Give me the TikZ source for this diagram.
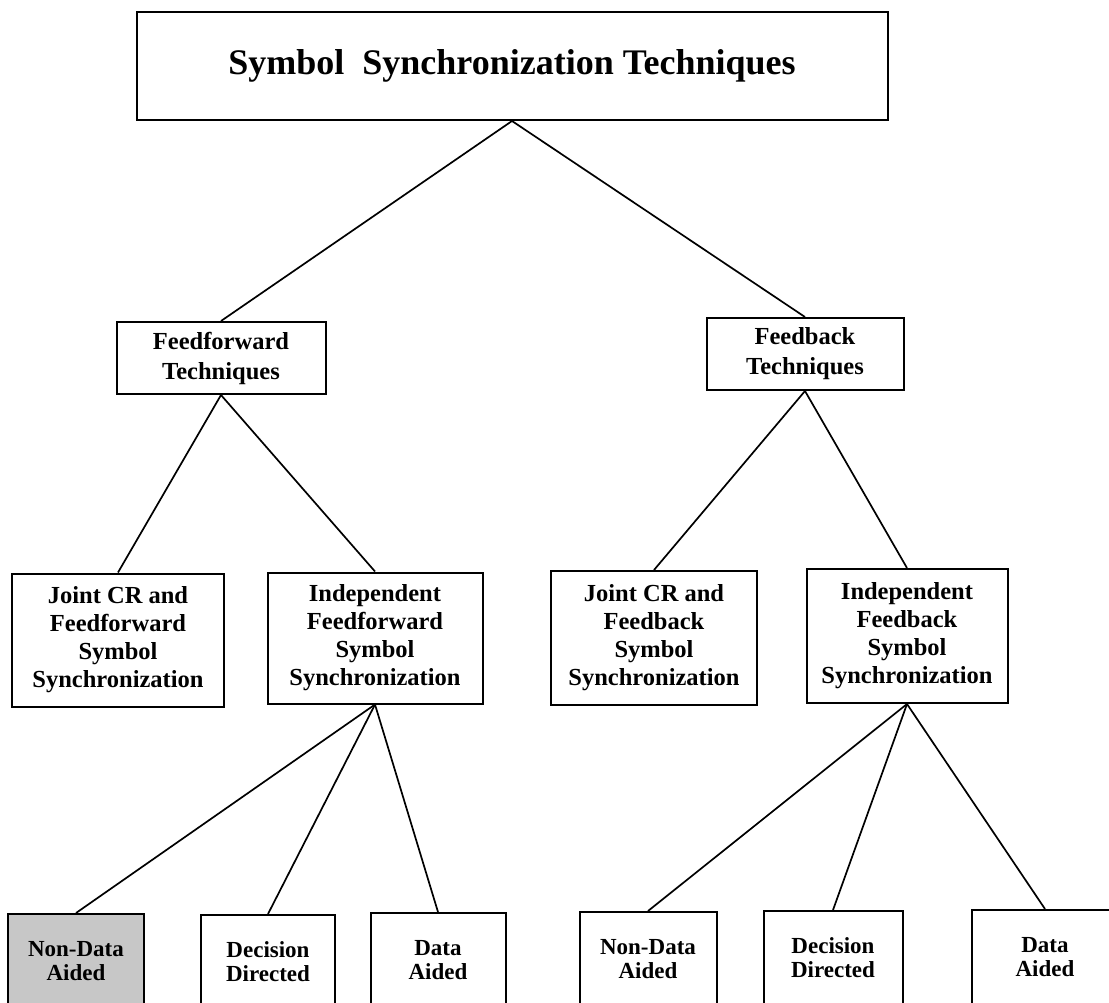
\documentclass[tikz,border=0pt]{standalone}
\usepackage{fontspec}
\setmainfont{Liberation Serif}
\begin{document}
\begin{tikzpicture}[x=1pt,y=-1pt,
  box/.style={draw, line width=2pt, align=center, inner sep=0pt,
    font=\bfseries\fontsize{24.5}{28}\selectfont},
  leafbox/.style={draw, line width=2pt, anchor=north, minimum height=140pt, inner sep=0pt},
  leaftext/.style={align=center, inner sep=0pt, font=\bfseries\fontsize{23}{24}\selectfont},
  link/.style={line width=1.7pt}]
\useasboundingbox (0,0) rectangle (1109,1003);
\clip (0,0) rectangle (1109,1003);

% root
\node[box, minimum width=751pt, minimum height=108pt, font=\bfseries\fontsize{36}{40}\selectfont]
  (root) at (512,66) {Symbol\ \ Synchronization Techniques};

% second level
\node[box, minimum width=209pt, minimum height=72pt, font=\bfseries\fontsize{24.5}{30}\selectfont]
  (ff) at (221,358) {Feedforward\\Techniques};
\node[box, minimum width=197pt, minimum height=72pt, font=\bfseries\fontsize{24.5}{30}\selectfont]
  (fb) at (805,354) {Feedback\\Techniques};

% third level
\node[box, minimum width=212pt, minimum height=133pt] (jff) at (118,640)
  {Joint CR and\\Feedforward\\Symbol\\Synchronization};
\node[box, minimum width=215pt, minimum height=131pt] (iff) at (375,638)
  {Independent\\Feedforward\\Symbol\\Synchronization};
\node[box, minimum width=206pt, minimum height=134pt] (jfb) at (654,638)
  {Joint CR and\\Feedback\\Symbol\\Synchronization};
\node[box, minimum width=201pt, minimum height=134pt] (ifb) at (907,636)
  {Independent\\Feedback\\Symbol\\Synchronization};

% leaves (boxes run past the lower edge)
\node[leafbox, minimum width=136pt, fill=black!22] (nd1) at (76,913) {};
\node[leafbox, minimum width=134pt] (dd1) at (268,914) {};
\node[leafbox, minimum width=135pt] (da1) at (438,912) {};
\node[leafbox, minimum width=137pt] (nd2) at (648,911) {};
\node[leafbox, minimum width=139pt] (dd2) at (833,910) {};
\node[leafbox, minimum width=146pt] (da2) at (1045,909) {};

\node[leaftext] (nd1t) at ([yshift=-48pt]nd1.north) {Non-Data\\Aided};
\node[leaftext] (dd1t) at ([yshift=-48pt]dd1.north) {Decision\\Directed};
\node[leaftext] (da1t) at ([yshift=-48pt]da1.north) {Data\\Aided};
\node[leaftext] (nd2t) at ([yshift=-48pt]nd2.north) {Non-Data\\Aided};
\node[leaftext] (dd2t) at ([yshift=-48pt]dd2.north) {Decision\\Directed};
\node[leaftext] (da2t) at ([yshift=-48pt]da2.north) {Data\\Aided};

% connectors
\draw[link] (root.south) -- (ff.north);
\draw[link] (root.south) -- (fb.north);
\draw[link] (ff.south) -- (jff.north);
\draw[link] (ff.south) -- (iff.north);
\draw[link] (fb.south) -- (jfb.north);
\draw[link] (fb.south) -- (ifb.north);
\draw[link] (iff.south) -- (nd1.north);
\draw[link] (iff.south) -- (dd1.north);
\draw[link] (iff.south) -- (da1.north);
\draw[link] (ifb.south) -- (nd2.north);
\draw[link] (ifb.south) -- (dd2.north);
\draw[link] (ifb.south) -- (da2.north);
\end{tikzpicture}
\end{document}
